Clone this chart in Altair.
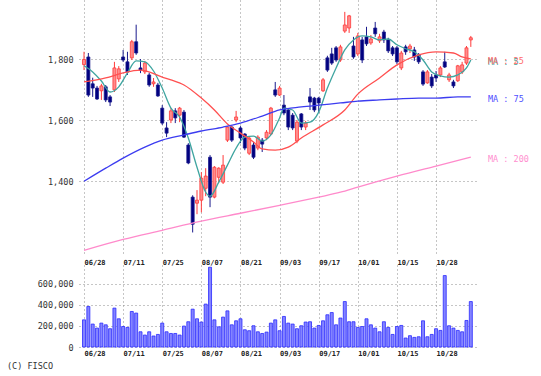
import json
import altair as alt
import pandas as pd

# ---- tick labels ----
dates = ["06/28", "07/11", "07/25", "08/07", "08/21", "09/03", "09/17", "10/01", "10/15", "10/28"]
date_pos = [0, 9, 18, 27, 36, 45, 54, 63, 72, 81]
price_ticks = [1400, 1600, 1800]
vol_ticks = [0, 200000, 400000, 600000]

# ---- daily candles (index 0 = 06/28) ----
opens = [1783, 1808, 1720, 1706, 1697, 1710, 1677, 1700, 1736, 1808,
         1792, 1805, 1858, 1772, 1759, 1749, 1720, 1716, 1640, 1575,
         1601, 1631, 1617, 1627, 1519, 1348, 1328, 1338, 1377, 1479,
         1348, 1413, 1397, 1535, 1578, 1601, 1575, 1555, 1492, 1519,
         1509, 1535, 1542, 1555, 1700, 1683, 1650, 1634, 1617, 1532,
         1621, 1578, 1677, 1673, 1673, 1697, 1805, 1818, 1838, 1798,
         1893, 1903, 1844, 1818, 1864, 1874, 1854, 1903, 1861, 1890,
         1864, 1838, 1838, 1772, 1841, 1835, 1831, 1815, 1759, 1723,
         1742, 1749, 1749, 1792, 1733, 1726, 1730, 1759, 1788, 1864]
highs = [1825, 1821, 1740, 1713, 1720, 1716, 1683, 1792, 1778, 1831,
         1825, 1864, 1914, 1801, 1795, 1756, 1739, 1723, 1650, 1594,
         1640, 1640, 1644, 1634, 1525, 1354, 1371, 1430, 1443, 1486,
         1450, 1446, 1486, 1581, 1581, 1631, 1581, 1558, 1548, 1529,
         1551, 1542, 1568, 1644, 1726, 1713, 1683, 1640, 1624, 1601,
         1624, 1598, 1706, 1677, 1677, 1739, 1812, 1838, 1844, 1848,
         1956, 1946, 1874, 1887, 1874, 1907, 1880, 1923, 1884, 1897,
         1871, 1844, 1844, 1828, 1848, 1851, 1841, 1821, 1765, 1765,
         1752, 1762, 1778, 1825, 1756, 1733, 1782, 1792, 1844, 1877]
lows = [1765, 1677, 1677, 1667, 1667, 1660, 1647, 1693, 1726, 1792,
        1749, 1798, 1815, 1755, 1752, 1710, 1710, 1677, 1585, 1545,
        1591, 1591, 1594, 1542, 1456, 1232, 1292, 1298, 1351, 1315,
        1344, 1394, 1391, 1529, 1529, 1594, 1525, 1502, 1486, 1473,
        1502, 1496, 1535, 1552, 1677, 1680, 1617, 1568, 1568, 1525,
        1568, 1568, 1634, 1627, 1624, 1693, 1759, 1782, 1792, 1792,
        1887, 1887, 1802, 1811, 1788, 1844, 1848, 1874, 1854, 1854,
        1821, 1811, 1785, 1765, 1815, 1821, 1795, 1785, 1713, 1720,
        1706, 1726, 1742, 1772, 1726, 1706, 1726, 1752, 1782, 1841]
closes = [1800, 1683, 1706, 1670, 1713, 1667, 1660, 1772, 1769, 1798,
          1759, 1858, 1821, 1765, 1788, 1716, 1726, 1680, 1591, 1558,
          1631, 1608, 1640, 1545, 1460, 1259, 1338, 1410, 1417, 1348,
          1446, 1443, 1453, 1578, 1535, 1611, 1542, 1509, 1542, 1479,
          1545, 1522, 1561, 1640, 1683, 1706, 1624, 1578, 1575, 1594,
          1578, 1591, 1660, 1634, 1657, 1733, 1765, 1788, 1798, 1841,
          1913, 1943, 1808, 1877, 1798, 1851, 1867, 1884, 1874, 1864,
          1828, 1818, 1792, 1821, 1825, 1844, 1808, 1792, 1719, 1759,
          1713, 1739, 1772, 1775, 1749, 1713, 1779, 1782, 1838, 1871]
volumes = [257000, 383000, 217000, 179000, 226000, 210000, 173000, 368000, 267000, 194000,
           185000, 336000, 321000, 144000, 113000, 144000, 104000, 119000, 226000, 144000,
           128000, 128000, 113000, 198000, 239000, 358000, 267000, 236000, 406000, 755000,
           257000, 191000, 283000, 342000, 210000, 248000, 267000, 163000, 154000, 201000,
           144000, 128000, 141000, 226000, 257000, 154000, 289000, 226000, 217000, 173000,
           201000, 236000, 239000, 179000, 204000, 248000, 305000, 326000, 210000, 274000,
           430000, 239000, 239000, 185000, 194000, 267000, 210000, 179000, 144000, 239000,
           185000, 119000, 194000, 204000, 85000, 107000, 91000, 97000, 248000, 97000,
           119000, 173000, 157000, 676000, 201000, 179000, 157000, 144000, 251000, 430000]

# ---- moving averages (read at sample days) ----
ma5_idx = [0, 2, 4, 6, 8, 10, 12, 14, 16, 18, 20, 22, 24, 26, 28, 29, 31, 33, 35, 37,
           39, 41, 43, 45, 46, 48, 50, 52, 54, 56, 58, 60, 62, 64, 66, 68, 70, 72, 74, 76,
           78, 80, 82, 84, 86, 88, 89]
ma5_val = [1779, 1759, 1729, 1693, 1710, 1756, 1795, 1792, 1762, 1706, 1640, 1611, 1542, 1446,
           1364, 1351, 1397, 1453, 1509, 1545, 1548, 1532, 1552, 1608, 1640, 1634, 1591, 1594,
           1627, 1706, 1772, 1831, 1864, 1877, 1874, 1864, 1867, 1848, 1835, 1825, 1798, 1759,
           1746, 1742, 1749, 1772, 1798]
ma25_idx = [0, 5, 9, 13, 18, 20, 23, 27, 30, 33, 36, 39, 41, 44, 47, 50, 55, 60, 63, 68,
            72, 77, 81, 85, 87, 89]
ma25_val = [1726, 1739, 1756, 1765, 1742, 1733, 1716, 1673, 1634, 1588, 1558, 1529, 1506, 1502,
            1512, 1542, 1585, 1634, 1686, 1739, 1782, 1815, 1825, 1821, 1808, 1802]
ma75_idx = [0, 5, 9, 14, 18, 23, 27, 32, 36, 41, 45, 50, 54, 59, 63, 68, 72, 77, 81, 86, 89]
ma75_val = [1400, 1443, 1476, 1512, 1535, 1552, 1565, 1578, 1591, 1614, 1634, 1644, 1650, 1657,
            1663, 1667, 1670, 1673, 1673, 1677, 1677]
ma200_idx = [0, 9, 18, 27, 36, 45, 54, 59, 63, 72, 81, 89]
ma200_val = [1173, 1209, 1239, 1269, 1295, 1321, 1348, 1364, 1381, 1417, 1450, 1479]

ma_names = ["MA5", "MA25", "MA75", "MA200"]
ma_colors = ["#3fa5a0", "#ff5050", "#3c3cf0", "#ff8acb"]
label_texts = ["MA : 5", "MA : 25", "MA : 75", "MA : 200"]
label_colors = ["#40a8a0", "#ff6a6a", "#5050ff", "#ff8fcf"]

# ---- tables ----
n = len(opens)
candles = pd.DataFrame({
    "i": list(range(n)), "open": opens, "high": highs, "low": lows, "close": closes,
    "dir": ["up" if c >= o else "down" for o, c in zip(opens, closes)],
})
vol_df = pd.DataFrame({"i": list(range(n)), "vol": volumes})
ma_rows = []
for name, idx, val in [("MA5", ma5_idx, ma5_val), ("MA25", ma25_idx, ma25_val),
                       ("MA75", ma75_idx, ma75_val), ("MA200", ma200_idx, ma200_val)]:
    for a, b in zip(idx, val):
        ma_rows.append({"ma": name, "i": a, "v": b})
ma_df = pd.DataFrame(ma_rows)
lab_df = pd.DataFrame({
    "ma": ma_names,
    "t": label_texts,
    "v": [ma5_val[-1], ma25_val[-1], ma75_val[-1], ma200_val[-1]],
})

FONT = "DejaVu Sans Mono"
GRID = "#8c8c8c"
W = 399

x_scale = alt.Scale(domain=[0, 89.5], nice=False, zero=False)
p_scale = alt.Scale(domain=[1158, 1995], nice=False, zero=False)
v_scale = alt.Scale(domain=[0, 776000], nice=False, zero=False)
label_expr = json.dumps(dates) + "[round(datum.value / 9)]"


def x_axis(pad, ext):
    return alt.Axis(values=date_pos, labelExpr=label_expr, grid=True, gridDash=[1, 3],
                    gridColor=GRID, gridWidth=1, domain=False, ticks=False, labelAlign="left",
                    labelBaseline="top", labelPadding=pad, labelFontSize=7, labelFont=FONT,
                    labelFontWeight="bold", labelColor="#222", labelOverlap=False,
                    labelFlush=False, minExtent=ext, maxExtent=ext, title=None)


def y_axis(vals):
    return alt.Axis(values=vals, format=",d", grid=True, gridDash=[1, 3], gridColor=GRID,
                    gridWidth=1, domain=False, ticks=False, labelPadding=6, labelFontSize=8.5,
                    labelFont=FONT, labelColor="#333", minExtent=79, maxExtent=79, title=None)


xa_top = x_axis(3, 10)
ya_top = y_axis(price_ticks)
X = alt.X("i:Q", scale=x_scale, axis=xa_top)

fill_scale = alt.Scale(domain=["up", "down"], range=["#ff8c8c", "#000080"])
stroke_scale = alt.Scale(domain=["up", "down"], range=["#ff3a3a", "#1a1a8c"])

base_c = alt.Chart(candles)
wicks = base_c.mark_rule(strokeWidth=1).encode(
    x=X,
    y=alt.Y("low:Q", scale=p_scale, axis=ya_top),
    y2="high:Q",
    stroke=alt.Stroke("dir:N", scale=stroke_scale, legend=None),
)
bodies = base_c.mark_bar(size=3, strokeWidth=0.8).encode(
    x=X,
    y=alt.Y("open:Q", scale=p_scale, axis=ya_top),
    y2="close:Q",
    fill=alt.Fill("dir:N", scale=fill_scale, legend=None),
    stroke=alt.Stroke("dir:N", scale=stroke_scale, legend=None),
)
lines = alt.Chart(ma_df).mark_line(strokeWidth=1.3, interpolate="monotone").encode(
    x=X,
    y=alt.Y("v:Q", scale=p_scale, axis=ya_top),
    color=alt.Color("ma:N", scale=alt.Scale(domain=ma_names, range=ma_colors), legend=None),
    detail="ma:N",
)
labels = alt.Chart(lab_df).mark_text(align="left", baseline="middle", dy=2, font=FONT,
                                     fontSize=8.5).encode(
    x=alt.value(409),
    y=alt.Y("v:Q", scale=p_scale, axis=ya_top),
    text="t:N",
    color=alt.Color("ma:N", scale=alt.Scale(domain=ma_names, range=label_colors), legend=None),
)
top = alt.layer(wicks, bodies, lines, labels).properties(width=W, height=255).resolve_scale(
    color="independent")

xa_bot = x_axis(2, 12)
ya_bot = y_axis(vol_ticks)
vol_bars = alt.Chart(vol_df).mark_bar(size=3, fill="#8484ff", stroke="#2a2aff",
                                      strokeWidth=0.8).encode(
    x=alt.X("i:Q", scale=x_scale, axis=xa_bot),
    y=alt.Y("vol:Q", scale=v_scale, axis=ya_bot),
)
copy = alt.Chart(pd.DataFrame({"t": ["(C) FISCO"]})).mark_text(
    align="left", baseline="middle", font=FONT, fontSize=8.5, color="#333").encode(
    x=alt.value(-72), y=alt.value(101), text="t:N")
bottom = alt.layer(vol_bars, copy).properties(width=W, height=82)

chart = alt.vconcat(top, bottom, spacing=0).properties(
    padding={"left": 0, "top": 0, "right": 0, "bottom": 0},
    background="white",
).configure_view(stroke=None)

chart.save("out.html", embed_options={"renderer": "svg", "actions": False})
